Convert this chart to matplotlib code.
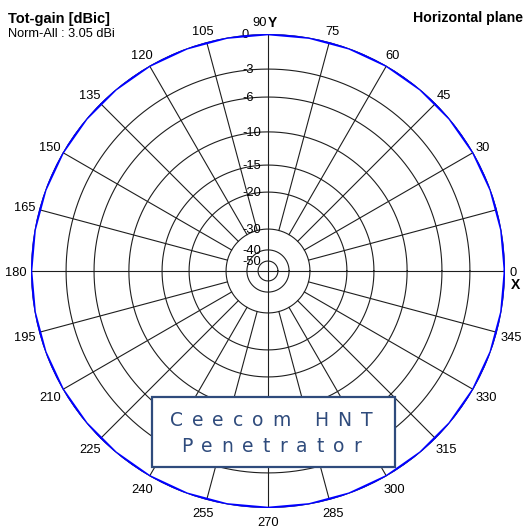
import numpy as np
import matplotlib.pyplot as plt
from matplotlib.patches import Rectangle

# Ring levels (dB) and where each sits on the plot radius (fraction of outer ring)
ring_db = [-50, -40, -30, -20, -15, -10, -6, -3, 0]
ring_frac = [0.042, 0.089, 0.177, 0.333, 0.447, 0.587, 0.734, 0.852, 1.0]

# Angle ticks every 15 deg (the 15 label is not shown in the original)
tick_angles = list(range(0, 360, 15))
tick_labels = ['0', '', '30', '45', '60', '75', '90', '105', '120', '135', '150', '165',
               '180', '195', '210', '225', '240', '255', '270', '285', '300', '315', '330', '345']

# Measured pattern: omnidirectional in the horizontal plane, 0 dB all round
pattern_deg = [0, 10, 20, 30, 40, 50, 60, 70, 80, 90, 100, 110, 120, 130, 140, 150, 160, 170, 180,
               190, 200, 210, 220, 230, 240, 250, 260, 270, 280, 290, 300, 310, 320, 330, 340, 350, 360]
pattern_db = [0.0, 0.0, 0.0, 0.0, 0.0, 0.0, 0.0, 0.0, 0.0, 0.0, 0.0, 0.0, 0.0, 0.0, 0.0, 0.0, 0.0, 0.0, 0.0,
              0.0, 0.0, 0.0, 0.0, 0.0, 0.0, 0.0, 0.0, 0.0, 0.0, 0.0, 0.0, 0.0, 0.0, 0.0, 0.0, 0.0, 0.0]


def db_to_r(db):
    return np.interp(db, ring_db, ring_frac)


plt.rcParams['font.family'] = ['Liberation Sans', 'DejaVu Sans']
W, H = 524, 532
fig = plt.figure(figsize=(W / 100, H / 100), dpi=100)
ax = fig.add_axes([31 / W, (H - 508) / H, 474 / W, 474 / H], projection='polar')
ax.set_ylim(0, 1)
ax.set_axis_off()

grid_col = '#1e1e1e'
full = np.linspace(0, 2 * np.pi, 721)
for db in ring_db:
    ax.plot(full, np.full_like(full, db_to_r(db)), color=grid_col, lw=0.8, zorder=1)

r_inner = db_to_r(-30)
for a in tick_angles:
    t = np.deg2rad(a)
    r0 = 0 if a % 90 == 0 else r_inner
    ax.plot([t, t], [r0, 1.0], color=grid_col, lw=0.8, zorder=1)

# dB labels along the 90 deg axis
for db in ring_db:
    ax.annotate(str(db), xy=(np.pi / 2, db_to_r(db)), xytext=(-26 * 0.72, -1 * 0.72),
                textcoords='offset points', ha='left', va='center', fontsize=9.3, zorder=3)

# angle labels round the outside
for a, lab in zip(tick_angles, tick_labels):
    if not lab:
        continue
    t = np.deg2rad(a)
    if a == 90:
        ax.annotate(lab, xy=(t, 1.0), xytext=(-1 * 0.72, 11 * 0.72), textcoords='offset points',
                    ha='right', va='center', fontsize=9.3)
        ax.annotate('Y', xy=(t, 1.0), xytext=(0, 11 * 0.72), textcoords='offset points',
                    ha='left', va='center', fontsize=10, fontweight='bold')
        continue
    w = 6.5 * len(lab)
    dx = np.cos(t) * (w / 2 + 5)
    dy = np.sin(t) * (5 + 8) - 2
    ax.annotate(lab, xy=(t, 1.0), xytext=(dx * 0.72, dy * 0.72), textcoords='offset points',
                ha='center', va='center', fontsize=9.3)
    if a == 0:
        ax.annotate('X', xy=(t, 1.0), xytext=((dx + 2) * 0.72, (dy - 12) * 0.72),
                    textcoords='offset points', ha='center', va='center',
                    fontsize=10, fontweight='bold')

# radiation pattern
ax.plot(np.deg2rad(pattern_deg), db_to_r(np.array(pattern_db)), color='#0000ff', lw=1.9, zorder=4)

# header texts
fig.text(8 / W, 1 - 19 / H, 'Tot-gain [dBic]', fontsize=10.5, fontweight='bold', va='center')
fig.text(8 / W, 1 - 34 / H, 'Norm-All : 3.05 dBi', fontsize=9.2, va='center')
fig.text(523 / W, 1 - 18 / H, 'Horizontal plane', fontsize=10.2, fontweight='bold',
         va='center', ha='right')

# product label box
box_col = '#2f4b7c'
fig.add_artist(Rectangle((152 / W, (H - 467) / H), 243 / W, 70 / H, transform=fig.transFigure,
                         facecolor='white', edgecolor=box_col, lw=1.6, zorder=10))

renderer = fig.canvas.get_renderer()


def tracked_text(y_px, s, track_px, size):
    widths = []
    for ch in s:
        if ch == ' ':
            widths.append(size * 0.3 / 0.72)
            continue
        tmp = fig.text(0, 0, ch, fontsize=size, family='DejaVu Sans')
        widths.append(tmp.get_window_extent(renderer).width)
        tmp.remove()
    total = sum(widths) + track_px * (len(s) - 1)
    x = 271 - total / 2
    for ch, wch in zip(s, widths):
        fig.text((x + wch / 2) / W, 1 - y_px / H, ch, fontsize=size, family='DejaVu Sans',
                 color=box_col, ha='center', va='center', zorder=11)
        x += wch + track_px


tracked_text(421, 'Ceecom HNT', 9.0, 13.5)
tracked_text(447, 'Penetrator', 9.0, 13.5)

fig.savefig('out.png', dpi=100)
